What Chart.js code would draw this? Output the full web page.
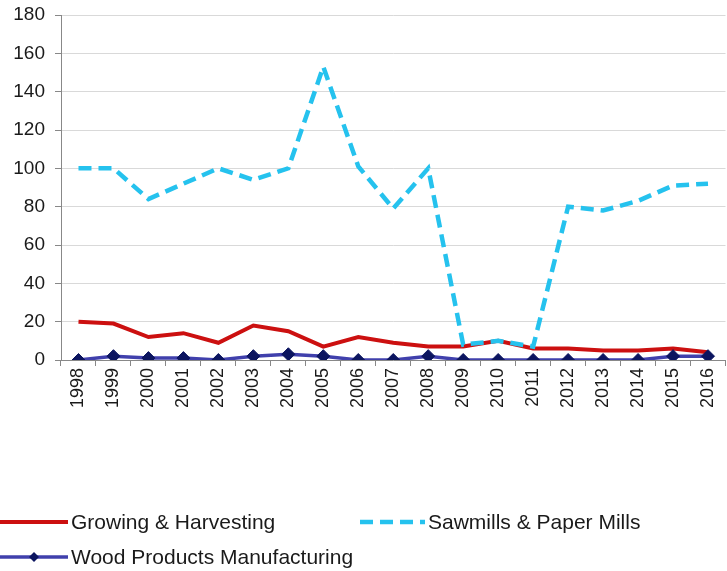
<!DOCTYPE html>
<html>
<head>
<meta charset="utf-8">
<script src="https://cdn.jsdelivr.net/npm/chart.js@4.4.1/dist/chart.umd.min.js"></script>
<style>
  html, body { margin: 0; padding: 0; background: #fff; overflow: hidden; }
  #wrap { width: 727px; height: 571px; overflow: hidden; }
  canvas { display: block; }
</style>
</head>
<body>
<div id="wrap"><canvas id="chart" width="733" height="571"></canvas></div>
<script>
// Years on the category axis
const years = ['1998','1999','2000','2001','2002','2003','2004','2005','2006','2007',
               '2008','2009','2010','2011','2012','2013','2014','2015','2016'];

// Series values
const growingHarvesting = [20, 19, 12, 14, 9, 18, 15, 7, 12, 9, 7, 7, 10, 6, 6, 5, 5, 6, 4];
const sawmillsPaperMills = [100, 100, 84, 92, 100, 94, 100, 153, 101, 79, 100, 8, 10, 7, 80, 78, 83, 91, 92];
const woodProducts = [0, 2, 1, 1, 0, 2, 3, 2, 0, 0, 2, 0, 0, 0, 0, 0, 0, 2, 2];

// Value axis ticks
const yTicks = [0, 20, 40, 60, 80, 100, 120, 140, 160, 180];

const FONT = 'Liberation Sans, Arial, sans-serif';

// Legend drawn below the plot, two entries on the first row, one on the second
const bottomLegend = {
  id: 'bottomLegend',
  afterDraw(chart) {
    const ctx = chart.ctx;
    const ds = chart.data.datasets;
    const slots = [
      { i: 0, x0: 0, x1: 68, y: 522 },
      { i: 1, x0: 360, x1: 425, y: 522 },
      { i: 2, x0: 0, x1: 68, y: 557 }
    ];
    ctx.save();
    slots.forEach(s => {
      const d = ds[s.i];
      ctx.beginPath();
      ctx.strokeStyle = d.borderColor;
      ctx.lineWidth = d.borderWidth;
      ctx.setLineDash(d.borderDash || []);
      ctx.moveTo(s.x0, s.y);
      ctx.lineTo(s.x1, s.y);
      ctx.stroke();
      ctx.setLineDash([]);
      if (d.pointRadius > 0) {
        const cx = (s.x0 + s.x1) / 2, r = 5;
        ctx.beginPath();
        ctx.fillStyle = d.pointBackgroundColor;
        ctx.moveTo(cx, s.y - r);
        ctx.lineTo(cx + r, s.y);
        ctx.lineTo(cx, s.y + r);
        ctx.lineTo(cx - r, s.y);
        ctx.closePath();
        ctx.fill();
      }
      ctx.fillStyle = '#1a1a1a';
      ctx.font = '21px ' + FONT;
      ctx.textAlign = 'left';
      ctx.textBaseline = 'middle';
      ctx.fillText(d.label, s.x1 + 3, s.y + 1);
    });
    ctx.restore();
  }
};

new Chart(document.getElementById('chart'), {
  type: 'line',
  data: {
    labels: years,
    datasets: [
      {
        label: 'Growing & Harvesting',
        data: growingHarvesting,
        borderColor: '#cc1010',
        backgroundColor: '#cc1010',
        borderWidth: 4,
        pointRadius: 0,
        tension: 0,
        order: 2
      },
      {
        label: 'Sawmills & Paper Mills',
        data: sawmillsPaperMills,
        borderColor: '#25c2ee',
        backgroundColor: '#25c2ee',
        borderWidth: 4.5,
        borderDash: [13, 7],
        pointRadius: 0,
        tension: 0,
        order: 1
      },
      {
        label: 'Wood Products Manufacturing',
        data: woodProducts,
        borderColor: '#4040ac',
        backgroundColor: '#0c1560',
        borderWidth: 3.5,
        pointStyle: 'rectRot',
        pointRadius: 6.5,
        pointBackgroundColor: '#0c1560',
        pointBorderColor: '#0c1560',
        pointBorderWidth: 1,
        tension: 0,
        order: 0
      }
    ]
  },
  options: {
    responsive: false,
    animation: false,
    events: [],
    layout: { padding: { top: 15, right: 0, bottom: 0, left: 0 } },
    plugins: {
      legend: { display: false },
      tooltip: { enabled: false }
    },
    scales: {
      x: {
        type: 'category',
        offset: true,
        afterFit(scale) {
          scale.height = 211;
          scale.paddingLeft = 0;
          scale.paddingRight = 0;
        },
        grid: {
          offset: true,
          drawOnChartArea: false,
          drawTicks: true,
          tickLength: 6,
          tickColor: '#888888'
        },
        border: { color: '#888888', width: 1 },
        ticks: {
          minRotation: 90,
          maxRotation: 90,
          autoSkip: false,
          padding: 2,
          color: '#1a1a1a',
          font: { family: FONT, size: 18 }
        }
      },
      y: {
        min: 0,
        max: 180,
        afterFit(scale) {
          scale.width = 61;
          scale.paddingTop = 0;
          scale.paddingBottom = 0;
        },
        afterBuildTicks(scale) { scale.ticks = yTicks.map(v => ({ value: v })); },
        grid: {
          color: '#d9d9d9',
          lineWidth: 1,
          drawTicks: true,
          tickLength: 6,
          tickColor: '#888888'
        },
        border: { color: '#888888', width: 1 },
        ticks: {
          padding: 10,
          color: '#1a1a1a',
          font: { family: FONT, size: 19 }
        }
      }
    }
  },
  plugins: [bottomLegend]
});
</script>
</body>
</html>
